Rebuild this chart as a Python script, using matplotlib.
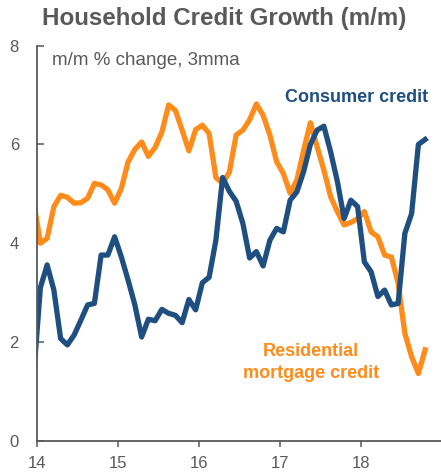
import numpy as np
import matplotlib.pyplot as plt

plt.rcParams['font.family'] = ['Liberation Sans', 'DejaVu Sans']

# monthly, mid-month, Dec 2013 .. Oct 2018 (3mma of m/m % change, annualised)
months = 2014 + (np.arange(59) - 0.5) / 12

consumer_credit = [
    1.3, 3.1, 3.56, 3.05, 2.07, 1.94, 2.14, 2.44, 2.75, 2.78,
    3.76, 3.76, 4.13, 3.72, 3.25, 2.75, 2.1, 2.46, 2.43, 2.66,
    2.58, 2.54, 2.39, 2.86, 2.65, 3.2, 3.31, 4.06, 5.33, 5.05,
    4.85, 4.4, 3.7, 3.83, 3.54, 4.06, 4.3, 4.23, 4.87, 5.04,
    5.45, 6.0, 6.29, 6.37, 5.85, 5.25, 4.5, 4.87, 4.74, 3.62,
    3.42, 2.92, 3.05, 2.75, 2.78, 4.2, 4.6, 6.0, 6.1,
]
mortgage_credit = [
    4.85, 4.0, 4.1, 4.74, 4.97, 4.93, 4.81, 4.82, 4.91, 5.21,
    5.18, 5.08, 4.81, 5.11, 5.65, 5.9, 6.05, 5.76, 5.94, 6.25,
    6.8, 6.69, 6.29, 5.87, 6.3, 6.39, 6.22, 5.33, 5.21, 5.44,
    6.19, 6.29, 6.5, 6.82, 6.59, 6.19, 5.65, 5.41, 5.01, 5.28,
    5.88, 6.44, 5.95, 5.48, 4.94, 4.64, 4.37, 4.42, 4.5, 4.64,
    4.23, 4.13, 3.76, 3.72, 3.19, 2.17, 1.7, 1.36, 1.84,
]

year_ticks = [2014, 2015, 2016, 2017, 2018]
year_labels = ['14', '15', '16', '17', '18']

navy = '#1f4e80'
orange = '#ff8c1a'
grey = '#595959'

fig = plt.figure(figsize=(4.41, 4.76), dpi=100)
ax = fig.add_axes([37 / 441, 35.3 / 476, 404 / 441, 395 / 476])

ax.plot(months, mortgage_credit, color=orange, lw=3.8, solid_joinstyle='round')
ax.plot(months, consumer_credit, color=navy, lw=3.8, solid_joinstyle='round')

ax.set_xlim(2014, 2014 + 404 / 81)
ax.set_ylim(0, 8)
ax.set_yticks([0, 2, 4, 6, 8])
ax.set_xticks(year_ticks)
ax.set_xticklabels(year_labels)

for s in ['top', 'right']:
    ax.spines[s].set_visible(False)
for s in ['left', 'bottom']:
    ax.spines[s].set_color(grey)
    ax.spines[s].set_linewidth(1.3)

ax.tick_params(axis='y', direction='in', length=5, width=1.1, color=grey,
               labelcolor=grey, labelsize=12, pad=13)
ax.tick_params(axis='x', direction='out', length=4, width=1.1, color=grey,
               labelcolor=grey, labelsize=12, pad=7)

fig.text(224 / 441, 1 - 18 / 476, 'Household Credit Growth (m/m)',
         ha='center', va='center', fontsize=17.4, fontweight='bold', color=grey)

ax.text(2014 + 15 / 81, 7.7, 'm/m % change, 3mma', ha='left', va='center',
        fontsize=13.5, color=grey)
ax.text(2014 + 391 / 81, 6.96, 'Consumer credit', ha='right', va='center',
        fontsize=13, fontweight='bold', color=navy)
ax.text(2014 + 274 / 81, 1.80, 'Residential', ha='center', va='center',
        fontsize=13, fontweight='bold', color=orange)
ax.text(2014 + 274 / 81, 1.37, 'mortgage credit', ha='center', va='center',
        fontsize=13, fontweight='bold', color=orange)

fig.savefig('out.png', dpi=100)
